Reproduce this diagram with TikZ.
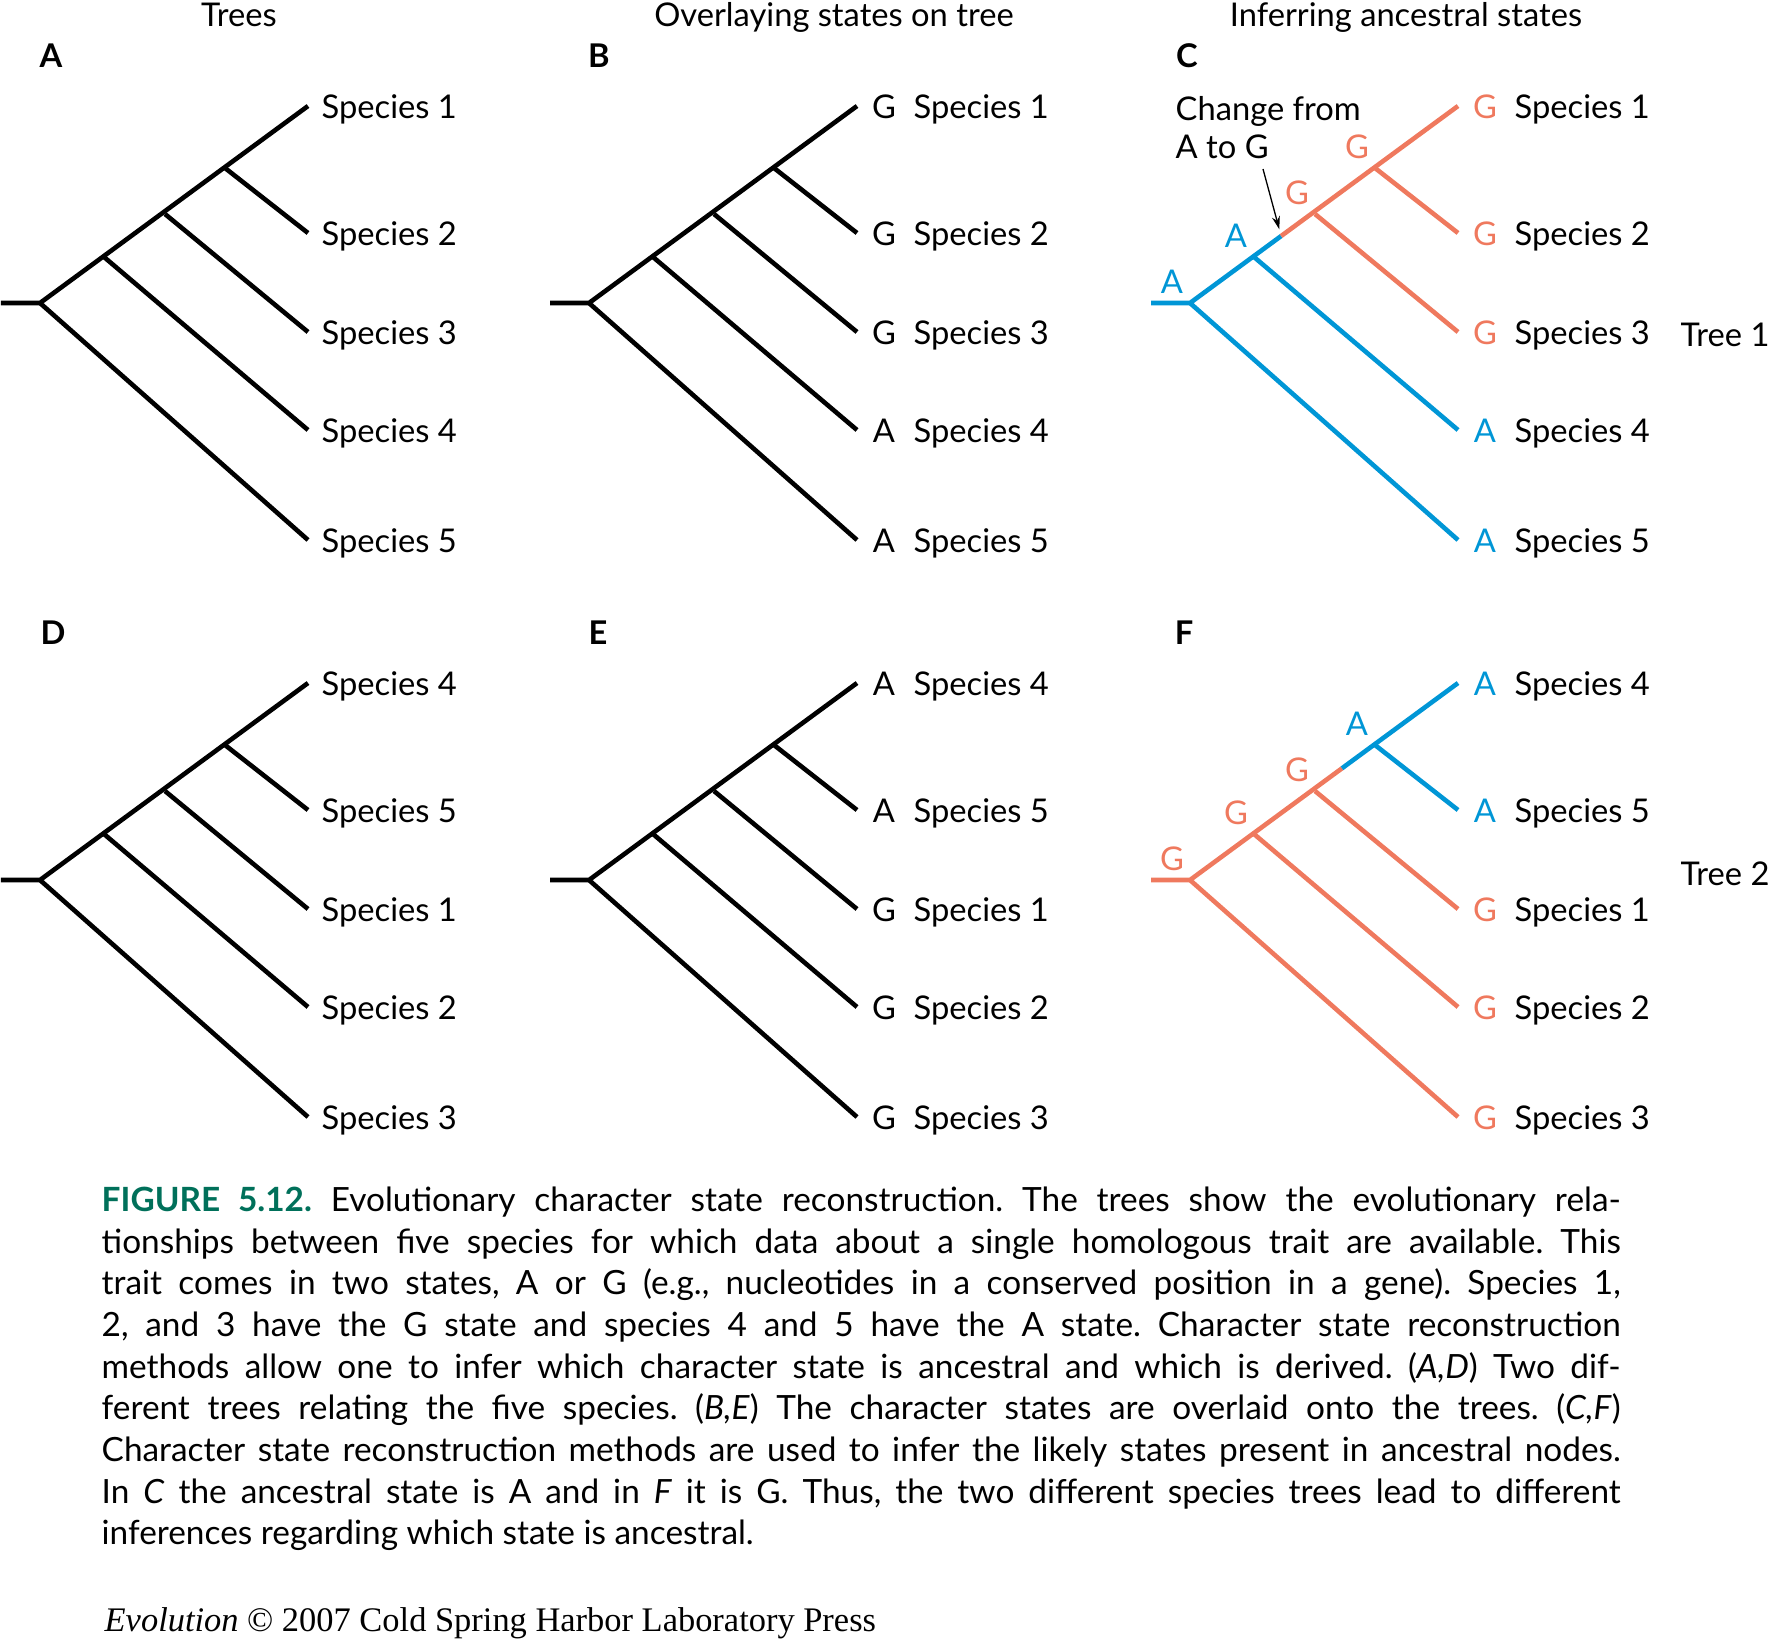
\documentclass[tikz,border=0pt]{standalone}
\usepackage{fontspec}
\setmainfont{Lato}
\newfontfamily\pressfont{Liberation Serif}
\usetikzlibrary{calc}
\usetikzlibrary{arrows.meta}

\definecolor{tblue}{RGB}{0,150,214}
\definecolor{tred}{RGB}{239,121,94}
\definecolor{figgreen}{RGB}{0,112,90}
\newcommand{\lblsize}{\fontsize{9.3}{11}\selectfont}

\begin{document}
\begin{tikzpicture}[x=0.1mm, y=-0.1mm,
  branch/.style={line width=0.46mm},
  spname/.style={anchor=base west, inner sep=0pt, font=\lblsize},
  state/.style={anchor=base, inner sep=0pt, font=\lblsize},
  letter/.style={anchor=base, inner sep=0pt, font=\lblsize\bfseries},
  heading/.style={anchor=base, inner sep=0pt, font=\lblsize}]
\useasboundingbox (0,0) rectangle (1768,1640);

% same tree shape in all six panels
\foreach \p/\dx/\dy in {a/0/0, b/549/0, c/1150/0, d/0/577, e/549/577, f/1150/577} {
 \coordinate (\p-stub) at (\dx+1,\dy+303);
 \coordinate (\p-root) at (\dx+40,\dy+303);
 \coordinate (\p-n2) at (\dx+104,\dy+257);
 \coordinate (\p-n3) at (\dx+165,\dy+214);
 \coordinate (\p-n4) at (\dx+225,\dy+168);
 \coordinate (\p-t1) at (\dx+308,\dy+106);
 \coordinate (\p-t2) at (\dx+308,\dy+233);
 \coordinate (\p-t3) at (\dx+308,\dy+332);
 \coordinate (\p-t4) at (\dx+308,\dy+430);
 \coordinate (\p-t5) at (\dx+308,\dy+540);
}

% headings and panel letters
\node[heading] (h-trees) at (239,26) {Trees};
\node[heading] (h-overlay) at (834,26) {Overlaying states on tree};
\node[heading] (h-infer) at (1406,26) {Inferring ancestral states};
\foreach \p/\L/\x/\y in {a/A/51/67, b/B/599/67, c/C/1187/67, d/D/53/644, e/E/598/644, f/F/1184/644}
 \node[letter] (\p-letter) at (\x,\y) {\L};

% black trees
\foreach \p in {a,b,d,e} {
 \draw[branch] (\p-stub) -- (\p-root) -- (\p-t1);
 \draw[branch] (\p-root) -- (\p-t5);
 \draw[branch] (\p-n2) -- (\p-t4);
 \draw[branch] (\p-n3) -- (\p-t3);
 \draw[branch] (\p-n4) -- (\p-t2);
}

% tree 1, A changes to G
\coordinate (c-change) at ($(c-root)!0.34!(c-t1)$);
\draw[branch, tblue] (c-stub) -- (c-root) -- (c-change);
\draw[branch, tblue] (c-root) -- (c-t5);
\draw[branch, tblue] (c-n2) -- (c-t4);
\draw[branch, tred] (c-change) -- (c-t1);
\draw[branch, tred] (c-n3) -- (c-t3);
\draw[branch, tred] (c-n4) -- (c-t2);

% tree 2, G changes to A
\coordinate (f-change) at ($(f-root)!0.567!(f-t1)$);
\draw[branch, tred] (f-stub) -- (f-root) -- (f-change);
\draw[branch, tred] (f-root) -- (f-t5);
\draw[branch, tred] (f-n2) -- (f-t4);
\draw[branch, tred] (f-n3) -- (f-t3);
\draw[branch, tblue] (f-change) -- (f-t1);
\draw[branch, tblue] (f-n4) -- (f-t2);

% species names
\foreach \i/\s in {1/1,2/2,3/3,4/4,5/5}
 \node[spname] (a-sp\i) at ([shift={(13,12)}]a-t\i) {Species \s};
\foreach \i/\s in {1/4,2/5,3/1,4/2,5/3}
 \node[spname] (d-sp\i) at ([shift={(13,12)}]d-t\i) {Species \s};
\foreach \i/\s/\g in {1/1/G,2/2/G,3/3/G,4/4/A,5/5/A} {
 \node[state] (b-st\i) at ([shift={(27,12)}]b-t\i) {\g};
 \node[spname] (b-sp\i) at ([shift={(56,12)}]b-t\i) {Species \s};
}
\foreach \i/\s/\g in {1/4/A,2/5/A,3/1/G,4/2/G,5/3/G} {
 \node[state] (e-st\i) at ([shift={(27,12)}]e-t\i) {\g};
 \node[spname] (e-sp\i) at ([shift={(56,12)}]e-t\i) {Species \s};
}
\foreach \i/\s/\g/\col in {1/1/G/tred,2/2/G/tred,3/3/G/tred,4/4/A/tblue,5/5/A/tblue} {
 \node[state, \col] (c-st\i) at ([shift={(27,12)}]c-t\i) {\g};
 \node[spname] (c-sp\i) at ([shift={(56,12)}]c-t\i) {Species \s};
}
\foreach \i/\s/\g/\col in {1/4/A/tblue,2/5/A/tblue,3/1/G/tred,4/2/G/tred,5/3/G/tred} {
 \node[state, \col] (f-st\i) at ([shift={(27,12)}]f-t\i) {\g};
 \node[spname] (f-sp\i) at ([shift={(56,12)}]f-t\i) {Species \s};
}

% inferred states at the inner nodes
\foreach \n/\g/\col in {root/A/tblue, n2/A/tblue, n3/G/tred, n4/G/tred}
 \node[state, \col] (c-\n-st) at ([shift={(-18,-10)}]c-\n) {\g};
\foreach \n/\g/\col in {root/G/tred, n2/G/tred, n3/G/tred, n4/A/tblue}
 \node[state, \col] (f-\n-st) at ([shift={(-18,-10)}]f-\n) {\g};

\node[spname] (tree1) at (1680,346) {Tree 1};
\node[spname] (tree2) at (1680,885) {Tree 2};

% the change on tree 1
\node[anchor=north west, inner sep=0pt, align=left, font=\fontsize{9.3}{10.8}\selectfont] (chg) at (1175,96) {Change from\\A to G};
\coordinate (chg-tail) at (1263,169);
\draw[line width=0.13mm, -{Stealth[length=1.3mm,width=0.8mm]}, shorten >=0.7mm] (chg-tail) -- (c-change);

% caption
\node[anchor=north west, inner sep=0pt, text width=151.9mm, align=justify, font=\fontsize{9.5}{11.86}\selectfont] (caption) at (101,1186) {\frenchspacing\tolerance=10000\hyphenpenalty=10000
{\color{figgreen}\bfseries FIGURE 5.12.} Evolutionary character state reconstruction. The trees show the evolutionary rela-\linebreak
tionships between five species for which data about a single homologous trait are available. This\linebreak
trait comes in two states, A or G (e.g., nucleotides in a conserved position in a gene). Species 1,\linebreak
2, and 3 have the G state and species 4 and 5 have the A state. Character state reconstruction\linebreak
methods allow one to infer which character state is ancestral and which is derived. (\textit{A,D}) Two dif-\linebreak
ferent trees relating the five species. (\textit{B,E}) The character states are overlaid onto the trees. (\textit{C,F})\linebreak
Character state reconstruction methods are used to infer the likely states present in ancestral nodes.\linebreak
In \textit{C} the ancestral state is A and in \textit{F} it is G. Thus, the two different species trees lead to different\linebreak
inferences regarding which state is ancestral.};

\node[anchor=base west, inner sep=0pt, font=\pressfont\fontsize{9.8}{12}\selectfont] (press) at (104,1631) {\textit{Evolution} © 2007 Cold Spring Harbor Laboratory Press};
\end{tikzpicture}
\end{document}
